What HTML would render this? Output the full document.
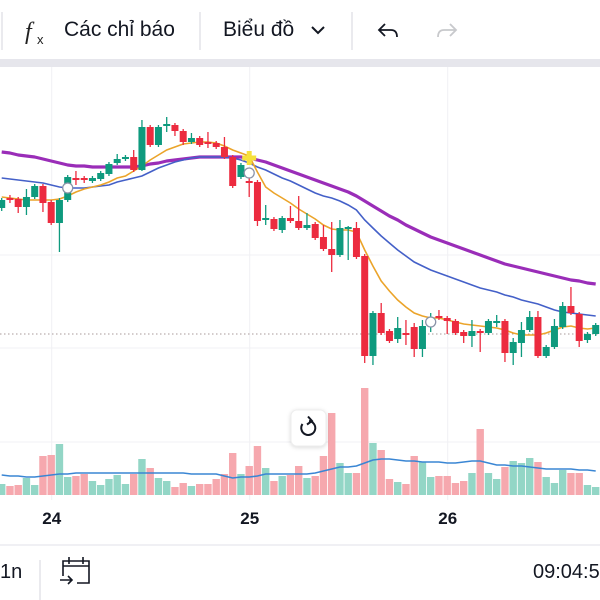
<!DOCTYPE html>
<html><head><meta charset="utf-8"><style>
html,body{margin:0;padding:0;background:#fff;width:600px;height:600px;overflow:hidden;font-family:"Liberation Sans","Noto Sans CJK SC",sans-serif}
svg{display:block}
</style></head><body>
<svg id="chart" width="600" height="600" viewBox="0 0 600 600" xmlns="http://www.w3.org/2000/svg">
<rect x="0" y="0" width="600" height="600" fill="#fff"/>
<g>
 <line x1="2" y1="12" x2="2" y2="50" stroke="#e3e3e8" stroke-width="1.5"/>
 <g>
  <text x="25" y="39" font-family="Liberation Serif,serif" font-style="italic" font-size="24" fill="#222">f</text>
  <text x="37" y="44" font-size="13" fill="#222">x</text>
  <text x="64" y="36" font-size="21" fill="#131722">Các chỉ báo</text>
 </g>
 <line x1="200" y1="12" x2="200" y2="50" stroke="#e3e3e8" stroke-width="1.5"/>
 <g>
  <text x="223" y="36" font-size="21" fill="#131722">Biểu đồ</text>
  <path d="M312 27 L318 33 L324 27" fill="none" stroke="#131722" stroke-width="2"/>
 </g>
 <line x1="352" y1="12" x2="352" y2="50" stroke="#e3e3e8" stroke-width="1.5"/>
 <path d="M385 24 L379 30 L385 36 M379 30 L391 30 Q397 30 397 37" fill="none" stroke="#131722" stroke-width="1.8"/>
 <path d="M450 24 L456 30 L450 36 M456 30 L444 30 Q438 30 438 37" fill="none" stroke="#c8c9cc" stroke-width="1.8"/>
</g>
<rect x="0" y="59" width="600" height="8" fill="#e6e6ec"/>
<g id="grid"></g>
<line x1="0" y1="334" x2="600" y2="334" stroke="#a89a9a" stroke-width="1" stroke-dasharray="1.5,2.5"/>
<g id="vol"></g>
<g id="mas"></g>
<g id="candles"></g>
<g id="markers"></g>
<g>
 <rect x="291" y="410" width="35" height="36" rx="6" fill="#fff" stroke="#eee" style="filter:drop-shadow(0 1px 2px rgba(0,0,0,0.15))"/>
 <path d="M302.5 424 A7 7 0 1 0 309 421" fill="none" stroke="#131722" stroke-width="2"/>
 <path d="M308 416.5 L312 421 L307 424.5" fill="none" stroke="#131722" stroke-width="2"/>
</g>
<g id="xaxis"></g>
<line x1="0" y1="545" x2="600" y2="545" stroke="#ececf0" stroke-width="1.5"/>
<g>
 <text x="0" y="578" font-size="20" fill="#131722">1n</text>
 <line x1="40" y1="560" x2="40" y2="600" stroke="#e3e3e8" stroke-width="1.5"/>
 <g fill="none" stroke="#131722" stroke-width="1.6">
  <path d="M63 576 L63 561 L89 561 L89 583 L77 583"/>
  <line x1="63" y1="566" x2="89" y2="566"/>
  <line x1="69" y1="557" x2="69" y2="564"/>
  <line x1="83" y1="557" x2="83" y2="564"/>
  <path d="M60 580 L72 580 M68 576 L72 580 L68 584"/>
 </g>
 <text x="533" y="578" font-size="20" fill="#131722">09:04:5</text>
</g>
</svg>
<script>
// price data (price units: higher = up), 73 hourly bars
const opens=[292,302,301,293,303,314,298,277,300,322,322,319,321,326,337,341,343,330,373,355,374,375,369,358,362,358,357,353,343,323,319,318,280,281,270,282,279,272,276,263,251,245,271,272,244,144,187,169,161,167,173,151,176,184,182,179,168,164,169,167,177,179,147,157,170,183,144,153,173,194,186,160,166];
const highs=[302,305,303,311,316,316,300,302,325,329,324,324,329,338,346,345,350,380,375,375,383,377,371,367,364,368,359,363,345,337,323,320,295,283,284,294,304,287,278,275,278,280,274,278,246,189,197,171,183,180,177,180,187,190,184,181,170,180,171,181,185,181,162,178,189,189,155,181,198,213,188,168,177];
const lows=[289,297,287,285,301,288,275,248,298,315,317,317,319,324,335,339,328,329,353,353,368,364,355,356,353,352,351,341,312,321,303,274,275,269,267,277,270,270,260,249,228,243,240,241,137,135,165,157,157,155,143,143,168,180,166,165,157,153,148,165,173,138,135,143,168,142,142,151,171,185,153,157,164];
const closes=[300,300,293,303,314,297,277,300,323,320,320,322,327,336,341,343,330,373,355,373,376,369,358,362,355,356,353,343,314,335,317,279,282,271,282,279,272,275,262,251,245,272,273,243,144,187,167,159,172,165,151,174,180,182,179,167,164,169,167,179,179,147,158,170,183,144,153,174,194,187,159,166,175];
const maFast=[303,302,301,300,300,300,300,301,304,308,311,313,315,318,322,324,329,334,340,345,350,353,356,357,358,358,357,354,350,347,344,328,313,307,302,297,291,286,281,275,271,270,270,268,250,234,219,209,200,193,187,184,182,182,180,178,176,175,174,173,172,170,167,165,165,165,167,170,173,174,172,171,172];
const maMid=[322,321,320,319,318,317,315,313,312,312,312,313,314,315,318,320,322,324,328,332,335,338,340,342,343,343,343,343,342,340,337,333,330,326,322,319,315,311,307,304,302,299,295,290,280,272,264,257,250,244,238,234,230,227,224,221,218,215,212,210,208,205,203,200,198,196,193,190,188,187,186,185,184];
const maSlow=[348,347,345,344,343,341,339,337,335,334,334,333,333,333,333,333,333,334,336,337,339,340,341,342,343,343,343,343,343,343,342,340,338,335,332,329,326,323,320,317,314,311,308,304,299,294,289,284,280,275,271,267,263,260,257,254,251,248,245,242,239,236,234,232,230,228,226,224,222,220,219,217,216];
const volumes=[11,9,10,17,10,39,40,51,18,19,21,14,10,16,20,11,21,36,27,17,14,8,12,9,11,11,16,21,42,21,29,49,27,14,19,20,29,17,19,39,82,32,22,22,107,52,45,16,13,11,39,33,18,19,19,12,14,22,66,22,16,28,34,32,37,33,18,12,25,22,22,10,8];
const volUp=[1,0,0,1,1,0,0,1,1,0,0,1,1,1,1,1,0,1,0,1,1,0,0,1,0,0,0,0,0,1,0,0,1,0,1,0,0,1,0,0,0,1,1,0,0,1,0,0,1,0,0,1,1,0,0,0,0,1,0,1,1,0,1,1,1,0,1,1,1,0,0,1,1];
const volMA=[20,19,19,18,18,19,20,21,21,22,22,22,22,22,22,22,22,22,22,22,22,22,22,21,21,21,21,19,17,18,18,19,21,21,21,21,21,21,22,24,26,28,28,29,32,35,36,36,35,34,34,33,33,33,32,32,33,34,34,32,30,30,29,29,28,27,26,26,26,26,25,25,24];
const dayLabels=["24","25","26"];
const dayIndex=[6,30,54];
const markerIdx=[8,30,52];
const markerPrices=[312,327,178];
const crossIdx=[30];
const crossPrices=[342];

const NS="http://www.w3.org/2000/svg";
function xS(i){return 1.7+i*8.25;}
function yS(p){return 500-p;}
function vY(v){return 495-v;}
function mk(tag,attrs,parent){const e=document.createElementNS(NS,tag);for(const k in attrs)e.setAttribute(k,attrs[k]);parent.appendChild(e);return e;}

const grid=document.getElementById('grid');
for(let k=0;k<dayIndex.length;k++){
  const gl=mk('line',{x1:xS(dayIndex[k])+0.5,y1:67,x2:xS(dayIndex[k])+0.5,y2:500,stroke:'#f0f0f4','stroke-width':1},grid);
  
  
}
[255,348,442].forEach(function(y){
  const hl=mk('line',{x1:0,y1:y,x2:600,y2:y,stroke:'#f0f0f4','stroke-width':1},grid);
  
  
});

const vol=document.getElementById('vol');
for(let i=0;i<volumes.length;i++){
  const r=mk('rect',{x:xS(i)-3.7,y:vY(volumes[i]),width:7.4,height:volumes[i],fill:volUp[i]?'#93d6c6':'#f6a8ae'},vol);
  
  
}
function linePath(arr,fy){let d='';for(let i=0;i<arr.length;i++){d+=(i?'L':'M')+xS(i).toFixed(1)+' '+fy(arr[i]).toFixed(1);}return d;}
const vm=mk('path',{d:linePath(volMA,vY),fill:'none',stroke:'#3a86d4','stroke-width':1.6},vol);



const mas=document.getElementById('mas');
const s1=mk('path',{d:linePath(maSlow,yS),fill:'none',stroke:'#9a2db8','stroke-width':3.2,'stroke-linejoin':'round'},mas);


const s2=mk('path',{d:linePath(maMid,yS),fill:'none',stroke:'#4460c8','stroke-width':1.6},mas);


const s3=mk('path',{d:linePath(maFast,yS),fill:'none',stroke:'#eba42a','stroke-width':1.6},mas);



const cg=document.getElementById('candles');
for(let i=0;i<opens.length;i++){
  const up=closes[i]>=opens[i];const col=up?'#0e9a7e':'#ec2b3f';
  const x=xS(i);
  const w=mk('line',{x1:x,y1:yS(highs[i]),x2:x,y2:yS(lows[i]),stroke:col,'stroke-width':1.3},cg);
  
  
  const top=yS(Math.max(opens[i],closes[i]));const h=Math.max(1.5,Math.abs(opens[i]-closes[i]));
  const b=mk('rect',{x:x-3.5,y:top,width:7,height:h,fill:col},cg);
  
  
}

const mg=document.getElementById('markers');
for(let k=0;k<markerIdx.length;k++){
  const c=mk('circle',{cx:xS(markerIdx[k]),cy:yS(markerPrices[k]),r:5,fill:'#fff',stroke:'#8a93a8','stroke-width':1.3},mg);
  
  
}
for(let k=0;k<crossIdx.length;k++){
  const x=xS(crossIdx[k]),y=yS(crossPrices[k]);
  const p=mk('path',{d:'M'+(x-7)+' '+y+'L'+(x+7)+' '+y+'M'+x+' '+(y-7)+'L'+x+' '+(y+7),stroke:'#f7e03a','stroke-width':5},mg);
  
  
}

const xa=document.getElementById('xaxis');
for(let k=0;k<dayLabels.length;k++){
  const t=mk('text',{x:xS(dayIndex[k])+0.5,y:524,'text-anchor':'middle','font-size':17,'font-weight':'bold',fill:'#131722'},xa);
  t.textContent=dayLabels[k];
  
  
}
</script>
</body></html>
